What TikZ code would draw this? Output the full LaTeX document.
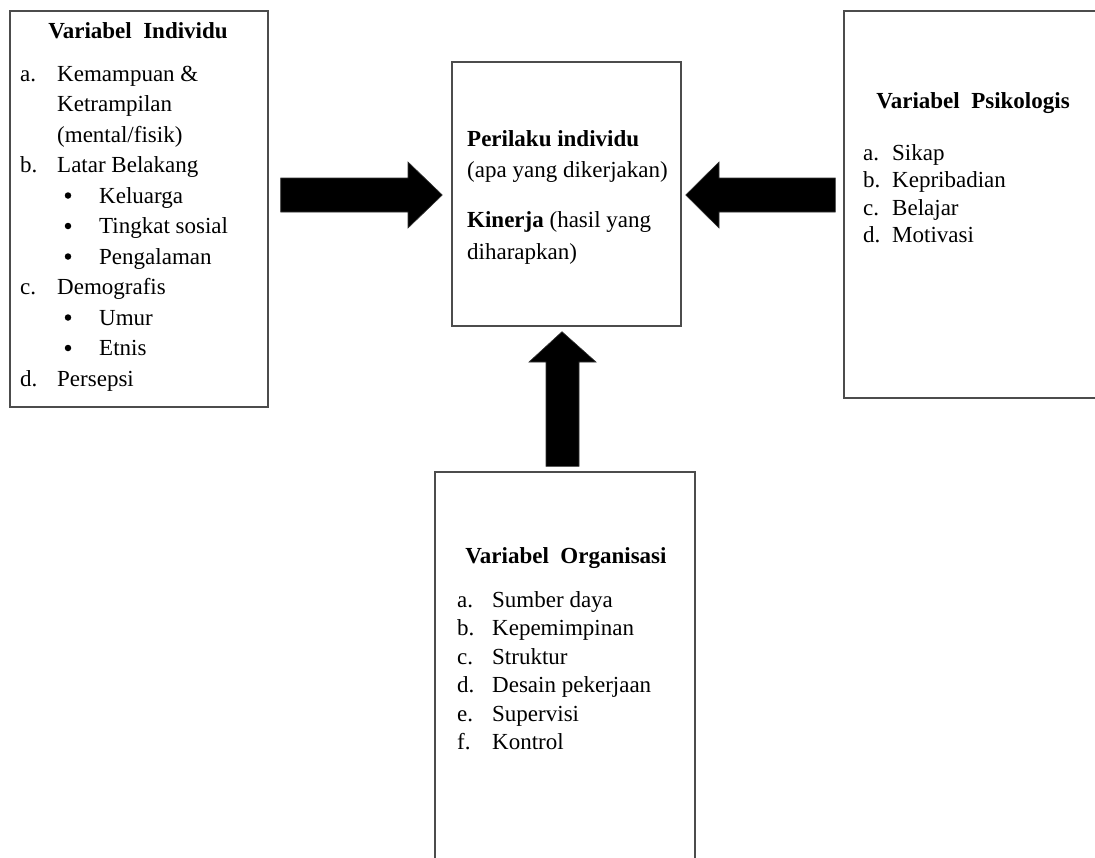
\documentclass[tikz,border=0pt]{standalone}
\usepackage{fontspec}
\setmainfont{Liberation Serif}
\usetikzlibrary{calc}
\tikzset{
  box/.style={draw=black!70, line width=1.4pt, fill=white, inner sep=0pt},
  txt/.style={anchor=base west, inner sep=0pt, font=\fontsize{23}{27}\selectfont},
  bul/.style={circle, fill=black, inner sep=0pt, minimum size=6.5pt},
  hd/.style={anchor=base, inner sep=0pt, font=\fontsize{23}{27}\selectfont\bfseries},
  blk/.style={fill=black, draw=black!80, line width=0.6pt, line join=miter}
}
\begin{document}
\begin{tikzpicture}[x=1pt,y=-1pt]
\useasboundingbox (0,0) rectangle (1095,857);
\clip (0,0) rectangle (1095,857);
% boxes
\node[box, minimum width=258pt, minimum height=396pt] (ind) at (139,209) {};
\node[box, minimum width=229pt, minimum height=264pt] (cen) at (566.5,194) {};
\node[box, minimum width=256pt, minimum height=387pt] (psi) at (972,204.5) {};
\node[box, minimum width=260pt, minimum height=398pt] (org) at (565,671) {};

% arrow anchor coordinates
\coordinate (la) at ($(ind.east)+(12,-14)$);
\coordinate (ltip) at ($(cen.west)+(-9,0)$);
\coordinate (rtip) at ($(cen.east)+(4,0)$);
\coordinate (ra) at ($(psi.west)+(-8,-9.5)$);
\coordinate (utip) at ($(cen.south)+(-4.5,5)$);
\coordinate (ua) at ($(org.north)+(-3,-5)$);

% left arrow
\fill[blk] (la |- 0,178) -- (408,178) -- (408,162) -- (ltip |- 0,195) -- (408,228) -- (408,212) -- (la |- 0,212) -- cycle;
% right arrow
\fill[blk] (ra |- 0,178) -- (719,178) -- (719,162) -- (rtip |- 0,195) -- (719,228) -- (719,212) -- (ra |- 0,212) -- cycle;
% up arrow
\fill[blk] (546,0 |- ua) -- (546,362) -- (529,362) -- (utip) -- (596,362) -- (579,362) -- (579,0 |- ua) -- cycle;

% left box text
\node[hd] (indh) at (138,38) {Variabel\ \ Individu};
\node[txt] (i1l) at (20,81) {a.};
\node[txt] (i1) at (57,81) {Kemampuan \&};
\node[txt] (i1b) at (57,111.5) {Ketrampilan};
\node[txt] (i1c) at (57,142) {(mental/fisik)};
\node[txt] (i2l) at (20,172.5) {b.};
\node[txt] (i2) at (57,172.5) {Latar Belakang};
\node[bul] (b1) at (68,195.5) {};
\node[txt] (b1t) at (99,203) {Keluarga};
\node[bul] (b2) at (68,226) {};
\node[txt] (b2t) at (99,233.5) {Tingkat sosial};
\node[bul] (b3) at (68,256.5) {};
\node[txt] (b3t) at (99,264) {Pengalaman};
\node[txt] (i3l) at (20,294.5) {c.};
\node[txt] (i3) at (57,294.5) {Demografis};
\node[bul] (b4) at (68,317.5) {};
\node[txt] (b4t) at (99,325) {Umur};
\node[bul] (b5) at (68,348) {};
\node[txt] (b5t) at (99,355.5) {Etnis};
\node[txt] (i4l) at (20,386) {d.};
\node[txt] (i4) at (57,386) {Persepsi};

% center box text
\node[txt] (c1) at (467,146) {\bfseries Perilaku individu};
\node[txt] (c2) at (467,177) {(apa yang dikerjakan)};
\node[txt] (c3) at (467,227) {\textbf{Kinerja} (hasil yang};
\node[txt] (c4) at (467,259) {diharapkan)};

% right box text
\node[hd] (psih) at (973,108) {Variabel\ \ Psikologis};
\node[txt] (p1l) at (863,160) {a.};
\node[txt] (p1) at (892,160) {Sikap};
\node[txt] (p2l) at (863,187.5) {b.};
\node[txt] (p2) at (892,187.5) {Kepribadian};
\node[txt] (p3l) at (863,215) {c.};
\node[txt] (p3) at (892,215) {Belajar};
\node[txt] (p4l) at (863,242.5) {d.};
\node[txt] (p4) at (892,242.5) {Motivasi};

% bottom box text
\node[hd] (orgh) at (566,563) {Variabel\ \ Organisasi};
\node[txt] (o1l) at (457,607) {a.};
\node[txt] (o1) at (492,607) {Sumber daya};
\node[txt] (o2l) at (457,635.5) {b.};
\node[txt] (o2) at (492,635.5) {Kepemimpinan};
\node[txt] (o3l) at (457,664) {c.};
\node[txt] (o3) at (492,664) {Struktur};
\node[txt] (o4l) at (457,692.5) {d.};
\node[txt] (o4) at (492,692.5) {Desain pekerjaan};
\node[txt] (o5l) at (457,721) {e.};
\node[txt] (o5) at (492,721) {Supervisi};
\node[txt] (o6l) at (457,749.5) {f.};
\node[txt] (o6) at (492,749.5) {Kontrol};
\end{tikzpicture}
\end{document}
